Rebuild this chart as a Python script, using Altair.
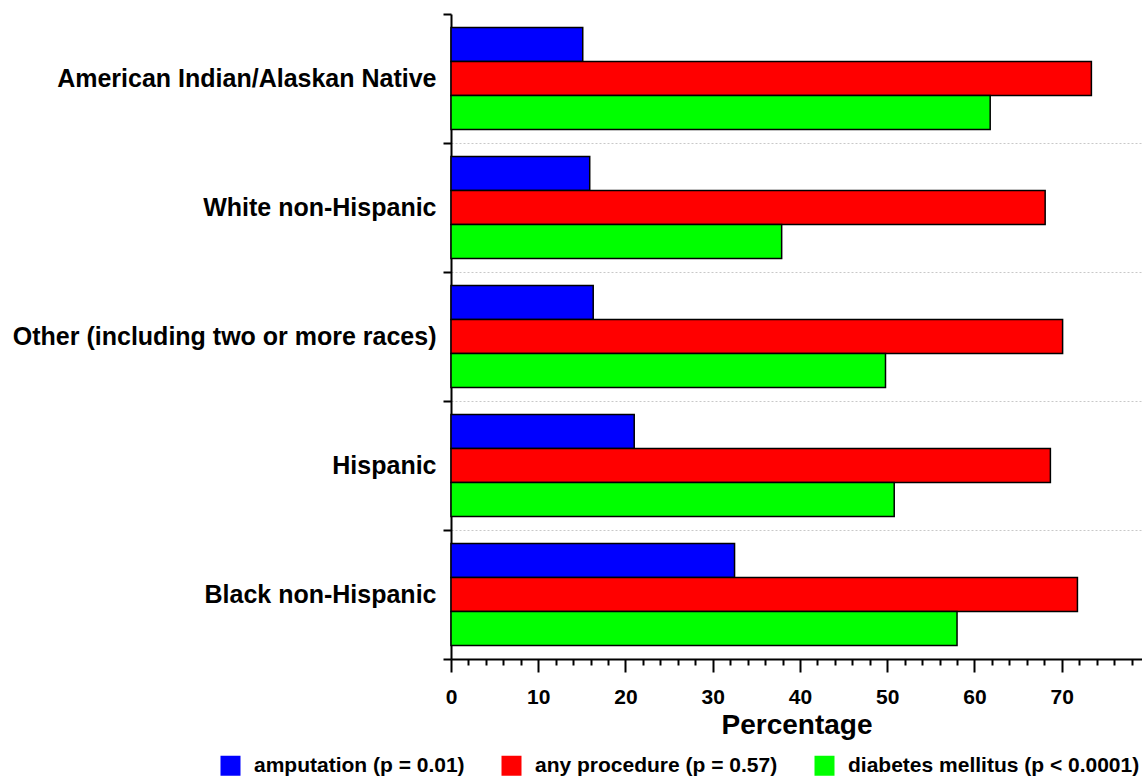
import altair as alt
import pandas as pd

categories = [
    "American Indian/Alaskan Native",
    "White non-Hispanic",
    "Other (including two or more races)",
    "Hispanic",
    "Black non-Hispanic",
]
series = [
    "amputation (p = 0.01)",
    "any procedure (p = 0.57)",
    "diabetes mellitus (p < 0.0001)",
]
amputation = [15.1, 15.9, 16.3, 21.0, 32.5]
any_procedure = [73.4, 68.1, 70.1, 68.7, 71.8]
diabetes = [61.8, 37.9, 49.8, 50.8, 58.0]
colors = ["#0000FF", "#FF0000", "#00FF00"]
x_ticks = list(range(0, 80, 2))

rows = []
for s, vals in zip(series, [amputation, any_procedure, diabetes]):
    for c, v in zip(categories, vals):
        rows.append({"group": c, "measure": s, "value": v})
df = pd.DataFrame(rows)

FONT = "Liberation Sans"

chart = alt.Chart(df).mark_bar(stroke="black", strokeWidth=1.5).encode(
    y=alt.Y(
        "group:N",
        sort=categories,
        title=None,
        scale=alt.Scale(paddingInner=0, paddingOuter=0),
        axis=alt.Axis(
            tickBand="extent",
            labelFont=FONT,
            labelFontSize=25,
            labelFontWeight="bold",
            labelColor="black",
            labelPadding=7,
            labelLimit=600,
            tickSize=8,
            tickWidth=2,
            tickColor="black",
            domainColor="black",
            domainWidth=2,
            grid=True,
            gridColor="#c8c8c8",
            gridDash=[2, 2],
            gridWidth=1,
            gridOpacity={"condition": {"test": "datum.index < 0", "value": 0}, "value": 1},
        ),
    ),
    yOffset=alt.YOffset(
        "measure:N",
        sort=series,
        scale=alt.Scale(paddingInner=0, paddingOuter=0.4),
    ),
    x=alt.X(
        "value:Q",
        title="Percentage",
        scale=alt.Scale(domain=[0, 79.2], nice=False, zero=True),
        axis=alt.Axis(
            values=x_ticks,
            labelExpr="datum.value % 10 === 0 ? datum.label : ''",
            labelFlush=False,
            labelOverlap=False,
            labelFont=FONT,
            labelFontSize=21,
            labelFontWeight="bold",
            labelColor="black",
            labelPadding=14,
            tickSize={"condition": {"test": "datum.value % 10 === 0", "value": 13}, "value": 6},
            tickWidth=2,
            tickColor="black",
            domainColor="black",
            domainWidth=2,
            grid=False,
            titleFont=FONT,
            titleFontSize=28,
            titleFontWeight="bold",
            titleColor="black",
            titlePadding=4,
        ),
    ),
    color=alt.Color(
        "measure:N",
        sort=series,
        scale=alt.Scale(domain=series, range=colors),
        legend=alt.Legend(
            title=None,
            orient="none",
            legendX=-231,
            legendY=741,
            direction="horizontal",
            padding=0,
            symbolType="square",
            symbolSize=400,
            symbolStrokeWidth=0,
            symbolOpacity=1,
            labelFont=FONT,
            labelFontSize=21,
            labelFontWeight="bold",
            labelColor="black",
            labelOffset=13,
            columnPadding=36,
            labelLimit=400,
        ),
    ),
).properties(
    width=691,
    height=645,
    background="white",
    autosize=alt.AutoSizeParams(type="none"),
    padding={"left": 451, "top": 14, "right": 0, "bottom": 117},
).configure_view(stroke=None)

chart.save("out.html", embed_options={"renderer": "svg", "actions": False})
